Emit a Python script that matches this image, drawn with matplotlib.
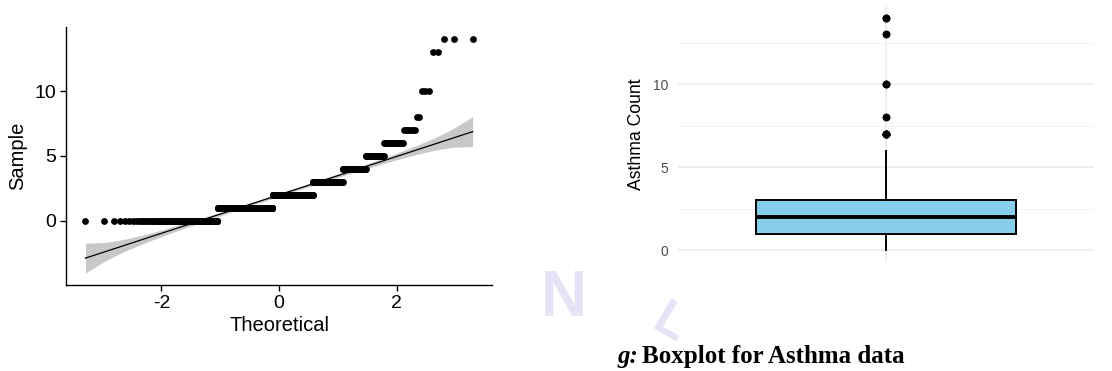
import numpy as np
import matplotlib.pyplot as plt
from statistics import NormalDist

count_values = [0, 1, 2, 3, 4, 5, 6, 7, 8, 10, 13, 14]
count_freq = [148, 308, 261, 144, 69, 33, 20, 7, 2, 3, 2, 3]

x_ticks = [-2, 0, 2]
y_ticks = [0, 5, 10]

asthma = np.repeat(count_values, count_freq).astype(float)
n = len(asthma)
nd = NormalDist()
probs = (np.arange(1, n + 1) - 0.5) / n
theo = np.array([nd.inv_cdf(p) for p in probs])
sample = np.sort(asthma)

# qq line through the quartiles, pointwise normal band
q1, q3 = np.percentile(sample, [25, 75])
z1, z3 = nd.inv_cdf(0.25), nd.inv_cdf(0.75)
slope = (q3 - q1) / (z3 - z1)
intercept = q1 - slope * z1
fit = intercept + slope * theo
dens = np.array([nd.pdf(z) for z in theo])
se = slope / dens * np.sqrt(probs * (1 - probs) / n)
lower = fit - 1.96 * se
upper = fit + 1.96 * se

plt.rcParams['font.family'] = ['Liberation Sans', 'DejaVu Sans']
plt.rcParams['axes.unicode_minus'] = False
fig = plt.figure(figsize=(11.12, 3.71), dpi=100)

# faint page watermark
wm = '#E4E4F6'
fig.text(541 / 1112, 1 - 316 / 371, 'N', fontsize=46, color=wm, fontweight='bold', zorder=0)
fig.text(645 / 1112, 1 - 342 / 371, 'L', fontsize=36, color=wm, fontweight='bold',
         rotation=-30, zorder=0)

# ---- left: QQ plot ----
ax1 = fig.add_axes([66 / 1112, 86 / 371, 426 / 1112, 258 / 371])
ax1.fill_between(theo, lower, upper, color='#C8C8C8', lw=0, zorder=1)
ax1.plot(theo, fit, color='black', lw=0.9, zorder=2)
ax1.scatter(theo, sample, s=24, color='black', lw=0, zorder=3)
ax1.set_xlim(-3.62, 3.62)
ax1.set_ylim(-4.95, 14.95)
ax1.set_xticks(x_ticks)
ax1.set_yticks(y_ticks)
for s in ['top', 'right']:
    ax1.spines[s].set_visible(False)
for s in ['left', 'bottom']:
    ax1.spines[s].set_linewidth(1.0)
ax1.tick_params(length=4, width=1.0, labelsize=14, pad=3, colors='black')
ax1.set_xlabel('Theoretical', fontsize=14.5, labelpad=3)
ax1.set_ylabel('Sample', fontsize=14.5, labelpad=5)

# ---- right: boxplot ----
ax2 = fig.add_axes([678 / 1112, 109 / 371, 416 / 1112, 256 / 371])
ax2.boxplot(asthma, positions=[1], widths=0.75, whis=1.5, patch_artist=True,
            manage_ticks=False,
            boxprops=dict(facecolor='#87CEEB', edgecolor='black', lw=1.4),
            medianprops=dict(color='black', lw=2.8),
            whiskerprops=dict(color='black', lw=1.4),
            capprops=dict(lw=0),
            flierprops=dict(marker='o', markerfacecolor='black', markeredgecolor='black',
                            markersize=4.5))
ax2.set_xlim(0.4, 1.6)
ax2.set_ylim(-0.7, 14.7)
ax2.set_yticks(y_ticks)
ax2.set_yticks([2.5, 7.5, 12.5], minor=True)
ax2.set_xticks([1])
ax2.set_xticklabels([''])
ax2.grid(True, which='major', color='#EBEBEB', lw=1.1)
ax2.grid(True, which='minor', axis='y', color='#F2F2F2', lw=0.7)
ax2.set_axisbelow(True)
for s in ax2.spines.values():
    s.set_visible(False)
ax2.tick_params(which='both', length=0, labelsize=10, labelcolor='#4D4D4D', pad=7)
ax2.set_ylabel('Asthma Count', fontsize=12.7, labelpad=6)

serif = ['Liberation Serif', 'DejaVu Serif']
fig.text(617 / 1112, 1 - 363 / 371, 'g:', fontsize=18, fontweight='bold', style='italic',
         family=serif, va='baseline')
fig.text(642 / 1112, 1 - 363 / 371, 'Boxplot for Asthma data', fontsize=18, fontweight='bold',
         family=serif, va='baseline')

fig.savefig('out.png', dpi=100)
